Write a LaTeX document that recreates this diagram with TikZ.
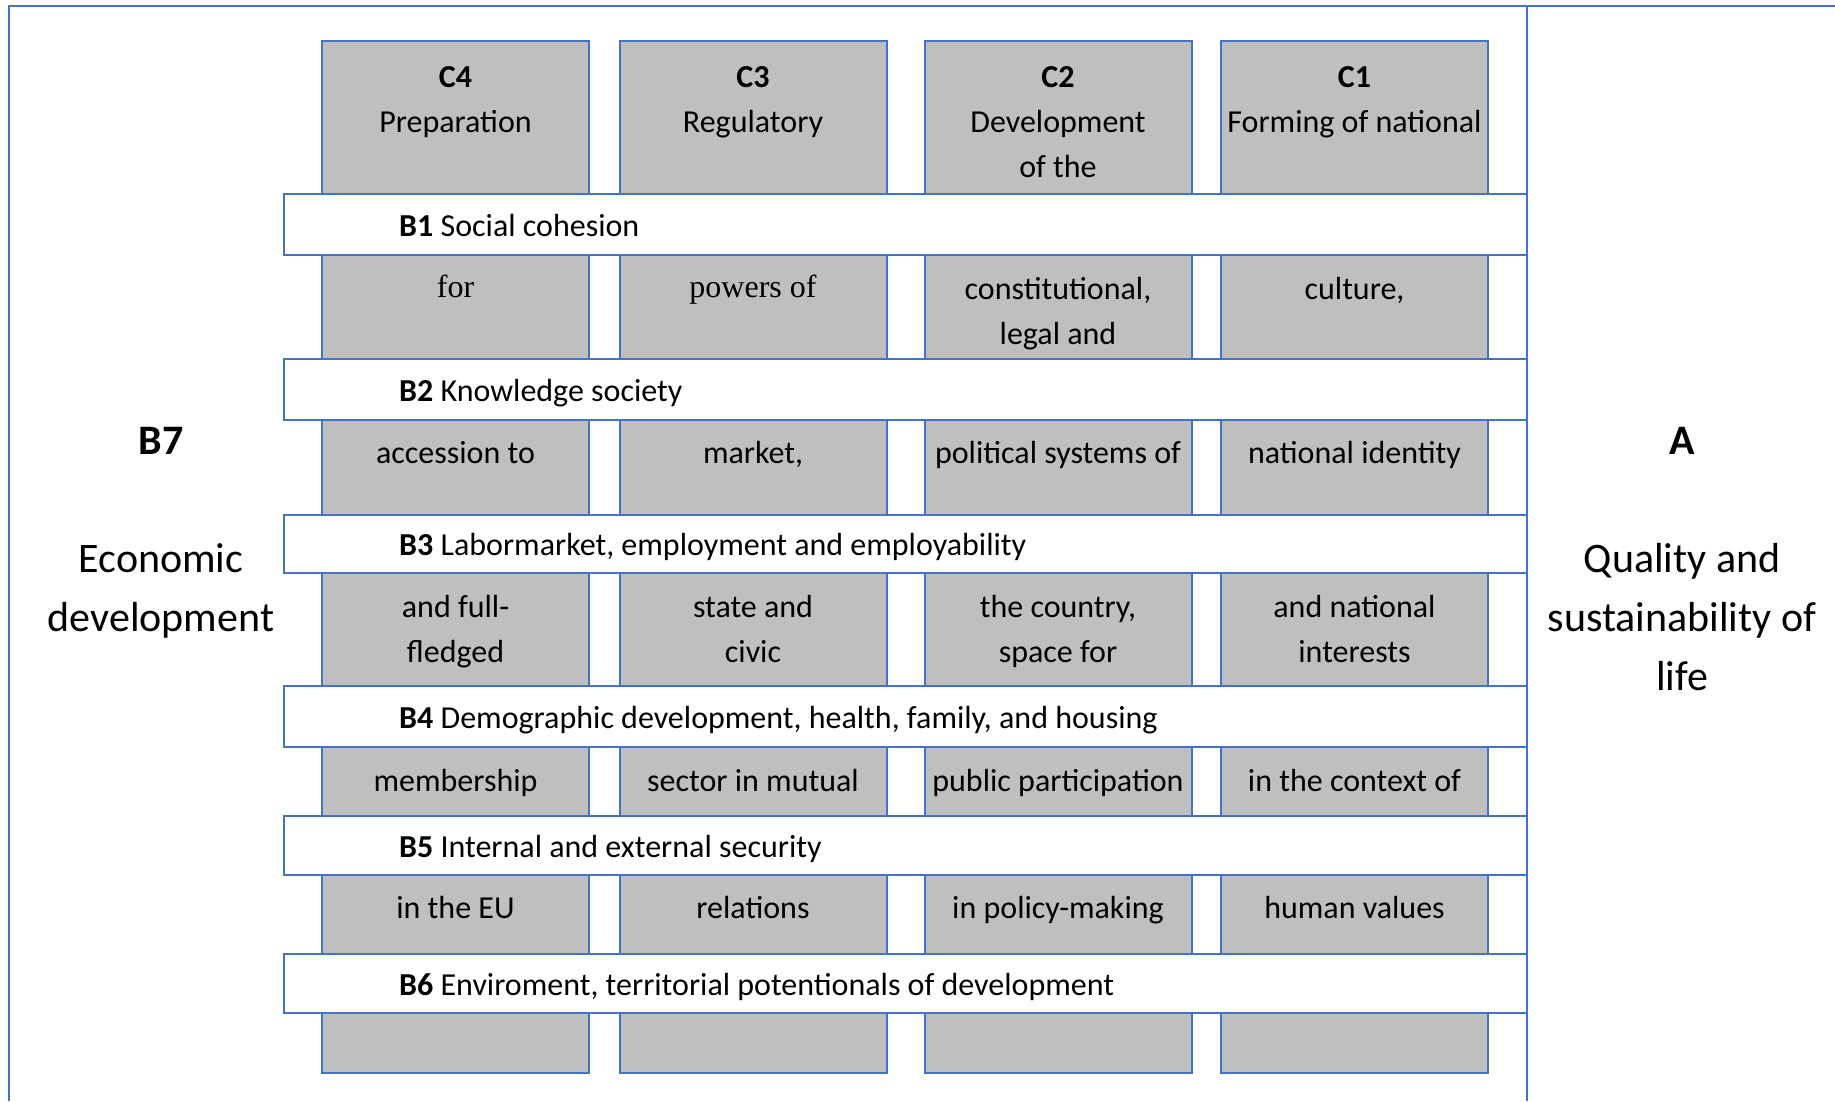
\documentclass[tikz,border=0pt]{standalone}
\usepackage{fontspec}
\setmainfont{Carlito}
\newfontfamily\serifalt{Liberation Serif}
\definecolor{frameblue}{HTML}{4472C4}
\definecolor{cellgray}{HTML}{BFBFBF}
\tikzset{
  cellbox/.style={rectangle, draw=frameblue, fill=cellgray, line width=2pt, minimum width=267pt, inner sep=0pt},
  bandbox/.style={rectangle, draw=frameblue, fill=white, line width=2pt, minimum width=1243pt, inner sep=0pt},
  celltext/.style={font=\fontsize{32}{45}\selectfont, align=center, anchor=north, inner sep=0pt, text=black},
  bandtext/.style={font=\fontsize{32}{45}\selectfont, anchor=base west, inner sep=0pt, text=black},
  sidetext/.style={font=\fontsize{42}{59}\selectfont, align=center, anchor=north, inner sep=0pt, text=black},
  frameline/.style={draw=frameblue, line width=2pt}
}
\begin{document}
\begin{tikzpicture}[x=1pt,y=-1pt]
\useasboundingbox (0,0) rectangle (1835,1101);
% outer frame
\coordinate (tl) at (9,6);
\coordinate (tr) at (1835,6);
\coordinate (bl) at (9,1101);
\coordinate (mt) at (1527,6);
\coordinate (mb) at (1527,1101);
\draw[frameline] (bl) -- (tl) -- (tr);
\draw[frameline] (mt) -- (mb);
% cells
\foreach \r/\cy/\h in {0/117.5/153, 1/307/104, 2/467.5/95, 3/629.5/113, 4/781.5/69, 5/914.5/79, 6/1043/60}{
  \foreach \c/\cx in {4/455.5, 3/753, 2/1058, 1/1354.5}{
    \node[cellbox, minimum height=\h pt] (c\c r\r) at (\cx,\cy) {};
  }
}
% bands
\node[bandbox, minimum height=61pt] (B1) at (905.5,224.5) {};
\node[bandbox, minimum height=61pt] (B2) at (905.5,389.5) {};
\node[bandbox, minimum height=58pt] (B3) at (905.5,544) {};
\node[bandbox, minimum height=61pt] (B4) at (905.5,716.5) {};
\node[bandbox, minimum height=59pt] (B5) at (905.5,845.5) {};
\node[bandbox, minimum height=59pt] (B6) at (905.5,983.5) {};
% band labels
\node[bandtext] (B1t) at (399,236.5) {\textbf{B1} Social cohesion};
\node[bandtext] (B2t) at (399,401) {\textbf{B2} Knowledge society};
\node[bandtext] (B3t) at (399,555.5) {\textbf{B3} Labormarket, employment and employability};
\node[bandtext] (B4t) at (399,728) {\textbf{B4} Demographic development, health, family, and housing};
\node[bandtext] (B5t) at (399,857) {\textbf{B5} Internal and external security};
\node[bandtext] (B6t) at (399,995) {\textbf{B6} Enviroment, territorial potentionals of development};
% row 0
\node[celltext] (t4r0) at ([yshift=-15.5pt]c4r0.north) {\strut\textbf{C4}\\Preparation};
\node[celltext] (t3r0) at ([yshift=-15.5pt]c3r0.north) {\strut\textbf{C3}\\Regulatory};
\node[celltext] (t2r0) at ([yshift=-15.5pt]c2r0.north) {\strut\textbf{C2}\\Development\\of the};
\node[celltext] (t1r0) at ([yshift=-15.5pt]c1r0.north) {\strut\textbf{C1}\\Forming of national};
% row 1
\node[celltext, font=\serifalt\fontsize{32}{45}\selectfont] (t4r1) at ([yshift=-12pt]c4r1.north) {\strut for};
\node[celltext, font=\serifalt\fontsize{32}{45}\selectfont] (t3r1) at ([yshift=-12pt]c3r1.north) {\strut powers of};
\node[celltext] (t2r1) at ([yshift=-14pt]c2r1.north) {\strut constitutional,\\legal and};
\node[celltext] (t1r1) at ([yshift=-14pt]c1r1.north) {\strut culture,};
% row 2
\node[celltext] (t4r2) at ([yshift=-13pt]c4r2.north) {\strut accession to};
\node[celltext] (t3r2) at ([yshift=-13pt]c3r2.north) {\strut market,};
\node[celltext] (t2r2) at ([yshift=-13pt]c2r2.north) {\strut political systems of};
\node[celltext] (t1r2) at ([yshift=-13pt]c1r2.north) {\strut national identity};
% row 3
\node[celltext] (t4r3) at ([yshift=-14pt]c4r3.north) {\strut and full-\\fledged};
\node[celltext] (t3r3) at ([yshift=-14pt]c3r3.north) {\strut state and\\civic};
\node[celltext] (t2r3) at ([yshift=-14pt]c2r3.north) {\strut the country,\\space for};
\node[celltext] (t1r3) at ([yshift=-14pt]c1r3.north) {\strut and national\\interests};
% row 4
\node[celltext] (t4r4) at ([yshift=-14pt]c4r4.north) {\strut membership};
\node[celltext] (t3r4) at ([yshift=-14pt]c3r4.north) {\strut sector in mutual};
\node[celltext] (t2r4) at ([yshift=-14pt]c2r4.north) {\strut public participation};
\node[celltext] (t1r4) at ([yshift=-14pt]c1r4.north) {\strut in the context of};
% row 5
\node[celltext] (t4r5) at ([yshift=-13pt]c4r5.north) {\strut in the EU};
\node[celltext] (t3r5) at ([yshift=-13pt]c3r5.north) {\strut relations};
\node[celltext] (t2r5) at ([yshift=-13pt]c2r5.north) {\strut in policy-making};
\node[celltext] (t1r5) at ([yshift=-13pt]c1r5.north) {\strut human values};
% side labels
\node[sidetext] (B7) at (161,413) {\strut\textbf{B7}\\\strut\\Economic\\development};
\node[sidetext] (A) at (1682,413) {\strut\textbf{A}\\\strut\\Quality and\\sustainability of\\life};
\end{tikzpicture}
\end{document}
